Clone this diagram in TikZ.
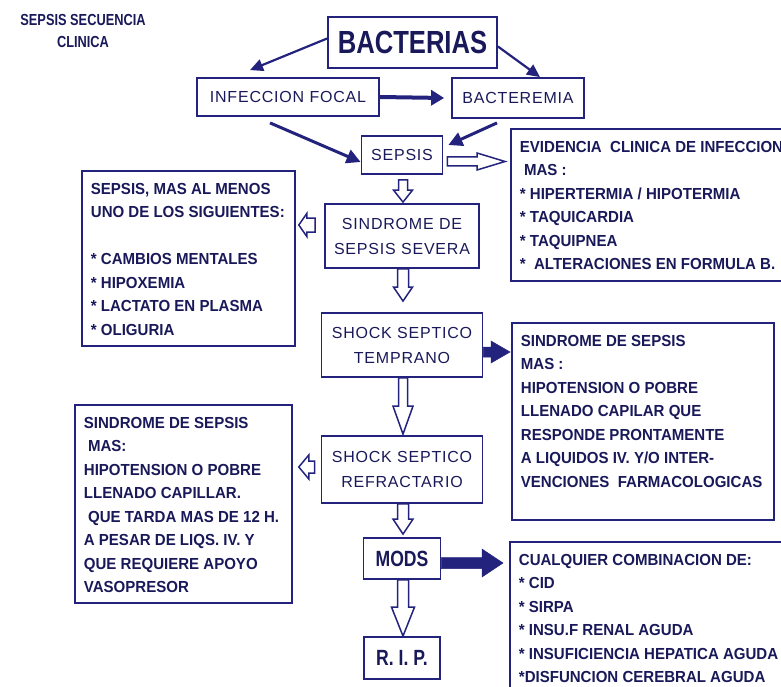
\documentclass[tikz,border=0pt]{standalone}
\usepackage{fontspec}
\setmainfont{Liberation Sans}
\newfontfamily\ctrfont[LetterSpace=5]{Liberation Sans}
\newfontfamily\sidefont[FakeStretch=0.94]{Liberation Sans}
\newfontfamily\headfont[FakeStretch=0.8]{Liberation Sans}
\usetikzlibrary{arrows.meta,calc}
\definecolor{navyline}{RGB}{35,35,125}
\definecolor{navyink}{RGB}{25,25,90}

% block arrow: style, start, end, shaft half width, head half width, head length
\newcommand{\blockarrow}[6][hollowblock]{%
  \coordinate (ba-s) at (#2);
  \coordinate (ba-e) at (#3);
  \coordinate (ba-h) at ($(ba-e)!#6!(ba-s)$);
  \draw[#1] ($(ba-s)!#4!90:(ba-e)$) -- ($(ba-h)!#4!90:(ba-e)$)
    -- ($(ba-h)!#5!90:(ba-e)$) -- (ba-e) -- ($(ba-h)!#5!-90:(ba-e)$)
    -- ($(ba-h)!#4!-90:(ba-e)$) -- ($(ba-s)!#4!-90:(ba-e)$) -- cycle;
}
% text of a side box, top aligned
\newcommand{\sidetext}[3]{\parbox[c][#2][t]{#1}{\begin{tabular}[t]{@{}l@{}}#3\end{tabular}}}

\begin{document}
\begin{tikzpicture}[x=1pt, y=-1pt,
  every node/.style={text=navyink},
  mainbox/.style={draw=navyline, line width=1.8pt, inner sep=0pt, align=center,
    font=\ctrfont\fontsize{16}{25}\selectfont},
  bigbox/.style={draw=navyline, line width=1.8pt, inner sep=0pt,
    font=\headfont\bfseries\fontsize{22}{26}\selectfont},
  sidebox/.style={draw=navyline, line width=1.8pt, anchor=north west,
    inner xsep=9pt, inner ysep=7pt, font=\sidefont\bfseries\fontsize{16}{23.5}\selectfont},
  thinarrow/.style={draw=navyline, line width=2.2pt, -{Triangle[length=13pt,width=12pt]}},
  midarrow/.style={draw=navyline, line width=3pt, -{Triangle[length=14pt,width=14pt]}},
  thickarrow/.style={draw=navyline, line width=4pt, -{Triangle[length=13pt,width=15pt]}},
  hollowblock/.style={draw=navyline, fill=white, line width=1.5pt, line join=miter},
  solidblock/.style={draw=navyline, fill=navyline, line width=0.5pt, line join=miter}]

\path[use as bounding box, clip] (0,0) rectangle (781,687);

\node[font=\headfont\bfseries\fontsize{16}{22}\selectfont, align=center] (title) at (83,31)
  {SEPSIS SECUENCIA\\CLINICA};

\node[bigbox, font=\headfont\bfseries\fontsize{32}{36}\selectfont,
  minimum width=169pt, minimum height=51pt] (bact) at (412.5,42.5) {BACTERIAS};
\node[mainbox, minimum width=182pt, minimum height=38pt] (inf) at (288,97) {INFECCION FOCAL};
\node[mainbox, minimum width=132pt, minimum height=40pt] (bactm) at (518,98) {BACTEREMIA};
\node[mainbox, minimum width=81pt, minimum height=38pt] (sep) at (402,155) {SEPSIS};
\node[mainbox, minimum width=154pt, minimum height=64pt] (severa) at (402,236) {SINDROME DE\\SEPSIS SEVERA};
\node[mainbox, minimum width=161pt, minimum height=64pt] (temp) at (402,345) {SHOCK SEPTICO\\TEMPRANO};
\node[mainbox, minimum width=161pt, minimum height=67pt] (refr) at (402,469.5) {SHOCK SEPTICO\\REFRACTARIO};
\node[bigbox, minimum width=77pt, minimum height=41pt] (mods) at (402,558.5) {MODS};
\node[bigbox, minimum width=76pt, minimum height=42pt] (rip) at (402,658) {R. I. P.};

\node[sidebox] (sevmas) at (81,170) {\sidetext{195pt}{161pt}{%
  SEPSIS, MAS AL MENOS\\
  UNO DE LOS SIGUIENTES:\\
  \\
  {*} CAMBIOS MENTALES\\
  {*} HIPOXEMIA\\
  {*} LACTATO EN PLASMA\\
  {*} OLIGURIA}};
\node[sidebox] (evid) at (510,128) {\sidetext{282pt}{138pt}{%
  EVIDENCIA\ \ CLINICA DE INFECCION\\
  \ MAS :\\
  {*} HIPERTERMIA / HIPOTERMIA\\
  {*} TAQUICARDIA\\
  {*} TAQUIPNEA\\
  {*}\ \ ALTERACIONES EN FORMULA B.}};
\node[sidebox] (tempmas) at (511,322) {\sidetext{244pt}{183pt}{%
  SINDROME DE SEPSIS\\
  MAS :\\
  HIPOTENSION O POBRE\\
  LLENADO CAPILAR QUE\\
  RESPONDE PRONTAMENTE\\
  A LIQUIDOS IV. Y/O INTER-\\
  VENCIONES\ \ FARMACOLOGICAS}};
\node[sidebox] (refrmas) at (74,404) {\sidetext{199pt}{184pt}{%
  SINDROME DE SEPSIS\\
  \ MAS:\\
  HIPOTENSION O POBRE\\
  LLENADO CAPILLAR.\\
  \ QUE TARDA MAS DE 12 H.\\
  A PESAR DE LIQS. IV. Y\\
  QUE REQUIERE APOYO\\
  VASOPRESOR}};
\node[sidebox] (cualq) at (509,541) {\sidetext{282pt}{156pt}{%
  CUALQUIER COMBINACION DE:\\
  {*} CID\\
  {*} SIRPA\\
  {*} INSU.F RENAL AGUDA\\
  {*} INSUFICIENCIA HEPATICA AGUDA\\
  {*}DISFUNCION CEREBRAL AGUDA}};

\draw[thinarrow] ([yshift=4pt]bact.west) -- ([xshift=-38pt,yshift=7pt]inf.north);
\draw[thinarrow] ([yshift=-4pt]bact.east) -- ([xshift=22pt]bactm.north);
\draw[thickarrow] (inf.east) -- ([xshift=-7pt]bactm.west);
\draw[midarrow] ([xshift=-18pt,yshift=-6pt]inf.south) -- ([yshift=-7pt]sep.west);
\draw[midarrow] ([xshift=-21pt,yshift=-4pt]bactm.south) -- ([xshift=5pt,yshift=10pt]sep.east);

\blockarrow{[xshift=4pt,yshift=-6.5pt]sep.east}{$(ba-s -| evid.west)+(-5,0)$}{4.5pt}{8.5pt}{28pt}
\blockarrow{[xshift=1pt,yshift=-5pt]sep.south}{[xshift=1pt,yshift=1pt]severa.north}{4.5pt}{9.5pt}{12pt}
\blockarrow{[xshift=-9pt,yshift=11pt]severa.west}{$(ba-s -| sevmas.east)+(3,0)$}{7pt}{11.5pt}{8pt}
\blockarrow{[xshift=1pt]severa.south}{[xshift=1pt,yshift=11pt]temp.north}{5.5pt}{9.5pt}{14pt}
\blockarrow[solidblock]{[yshift=-7pt]temp.east}{$(ba-s -| tempmas.west)+(-1,0)$}{5pt}{11pt}{19pt}
\blockarrow{[xshift=1pt]temp.south}{[xshift=1pt,yshift=1pt]refr.north}{4.5pt}{10pt}{28pt}
\blockarrow{[xshift=-6pt,yshift=2.5pt]refr.west}{$(ba-s -| refrmas.east)+(6,0)$}{6pt}{12pt}{10pt}
\blockarrow{[xshift=1pt]refr.south}{[xshift=1pt,yshift=3pt]mods.north}{5.5pt}{10pt}{15pt}
\blockarrow[solidblock]{[yshift=-4.5pt]mods.east}{$(ba-s -| cualq.west)+(-6,0)$}{5.5pt}{14pt}{21pt}
\blockarrow{[xshift=1pt]mods.south}{[xshift=1pt]rip.north}{5.5pt}{11.5pt}{29pt}
\end{tikzpicture}
\end{document}
